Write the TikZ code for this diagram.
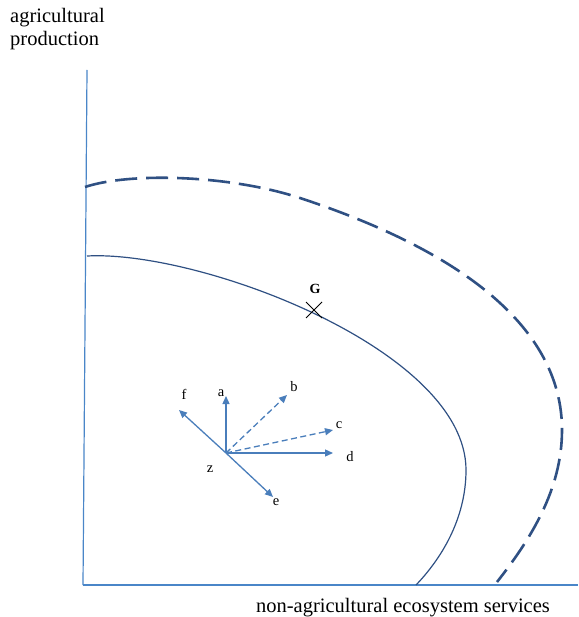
\documentclass[tikz,border=0pt]{standalone}
\usepackage{fontspec}
\setmainfont{Liberation Serif}
\usetikzlibrary{arrows.meta, positioning, calc}
\definecolor{axisblue}{HTML}{4A86C8}
\definecolor{curveblue}{HTML}{2F5083}
\definecolor{arrowblue}{HTML}{4A7EBB}

\begin{document}
\begin{tikzpicture}[x=1pt, y=-1pt,
  axis/.style={axisblue, line width=1.2pt},
  vec/.style={arrowblue, line width=1.3pt, -{Triangle[length=8pt, width=7pt]}},
  vecdash/.style={vec, dash pattern=on 6pt off 3.5pt},
  veclbl/.style={font=\fontsize{14.5}{16}\selectfont, inner sep=1pt}]
  \useasboundingbox (0,0) rectangle (578,617);

  % axes
  \coordinate (origin) at (83,585);
  \coordinate (ytop) at (87,70);
  \coordinate (xend) at (578,585);
  \draw[axis] (origin) -- (ytop);
  \draw[axis] (origin) -- (xend);
  \node[align=left, anchor=north west, inner sep=0pt, font=\fontsize{20.5}{23}\selectfont] (ylabel) at (10,8) {agricultural\\production};
  \node[anchor=base, inner sep=0pt, font=\fontsize{20.5}{23}\selectfont] (xlabel) at (403,612) {non-agricultural ecosystem services};

  % frontiers
  \draw[curveblue, line width=1.2pt] (87,256) .. controls (200,250) and (466,350) .. (466,470)
    .. controls (466,520) and (440,560) .. (416,585);
  \draw[curveblue, line width=2.6pt, dash pattern=on 22pt off 9pt] (85,187) .. controls (130,172) and (230,175) .. (300,198)
    .. controls (400,231) and (562,300) .. (562,430)
    .. controls (562,490) and (530,540) .. (497,582);

  % point G
  \coordinate (gpt) at (314,310);
  \draw[black, line width=1pt] ($(gpt)+(-8,-8)$) -- ($(gpt)+(8,8)$);
  \draw[black, line width=1pt] ($(gpt)+(-8,8)$) -- ($(gpt)+(8,-8)$);
  \node[font=\bfseries\fontsize{14}{16}\selectfont] (glbl) at (315,289) {G};

  % vectors
  \coordinate (z) at (226,453);
  \coordinate (a) at (226,396);
  \coordinate (b) at (287,395);
  \coordinate (c) at (333,430);
  \coordinate (d) at (333,453);
  \coordinate (e) at (273,497);
  \coordinate (f) at (179,410);
  \draw[vec] (z) -- (a);
  \draw[vecdash] (z) -- (b);
  \draw[vecdash] (z) -- (c);
  \draw[vec] (z) -- (d);
  \draw[vec] (z) -- (e);
  \draw[vec] (z) -- (f);
  \node[veclbl] (albl) at (221,393) {a};
  \node[veclbl] (blbl) at (294,387) {b};
  \node[veclbl] (clbl) at (339,425) {c};
  \node[veclbl] (dlbl) at (350,457) {d};
  \node[veclbl] (elbl) at (276,502) {e};
  \node[veclbl] (flbl) at (184,394) {f};
  \node[veclbl] (zlbl) at (210,469) {z};
\end{tikzpicture}
\end{document}
